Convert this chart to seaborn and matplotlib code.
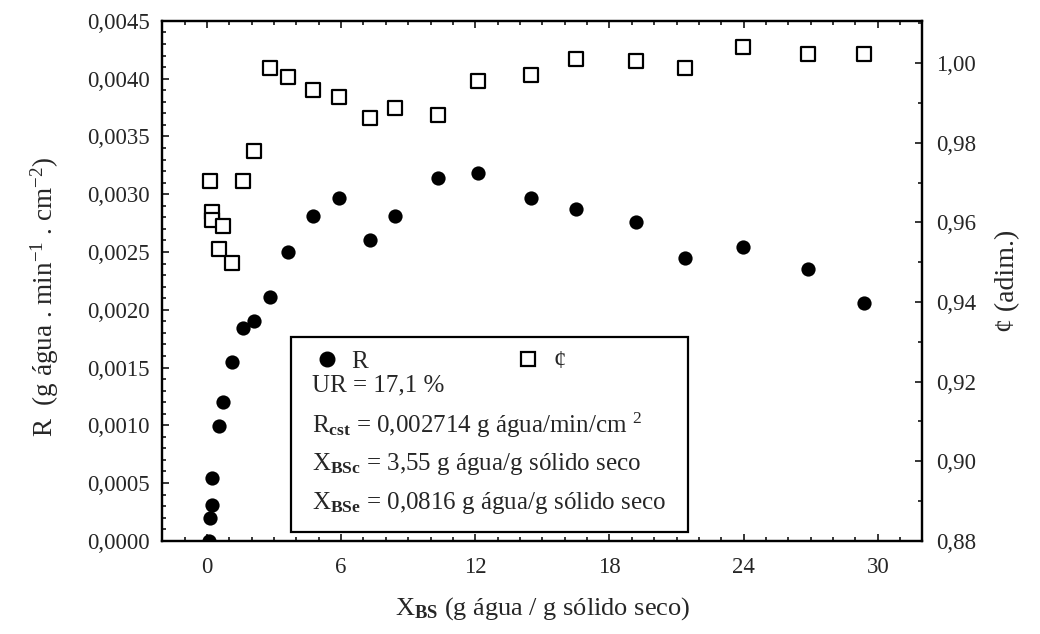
import numpy as np
import matplotlib
matplotlib.use("Agg")
import matplotlib.pyplot as plt
import seaborn as sns
from matplotlib.lines import Line2D
from matplotlib.patches import Rectangle
from matplotlib.ticker import MultipleLocator, FuncFormatter

# data
x_bs = [0.08, 0.15, 0.24, 0.24, 0.55, 0.73, 1.13, 1.62, 2.11, 2.81, 3.63, 4.75,
        5.90, 7.31, 8.42, 10.33, 12.11, 14.50, 16.50, 19.18, 21.40, 23.97, 26.90, 29.40]
r_rate = [0.0000, 0.00020, 0.00031, 0.00054, 0.00099, 0.00120, 0.00155, 0.00184,
          0.00190, 0.00211, 0.00250, 0.00281, 0.00297, 0.00260, 0.00281, 0.00314,
          0.00318, 0.00297, 0.00287, 0.00276, 0.00245, 0.00254, 0.00235, 0.00206]
# phi has no point at the first (R = 0) moisture value
x_phi = x_bs[1:]
phi = [0.9705, 0.9626, 0.9605, 0.9534, 0.9590, 0.9498, 0.9705, 0.9778, 0.9988,
       0.9965, 0.9932, 0.9915, 0.9863, 0.9887, 0.9870, 0.9954, 0.9971, 1.0011,
       1.0005, 0.9988, 1.0040, 1.0023, 1.0023]

legend_lines = [
    "UR = 17,1 %",
    r"R$_{\mathbf{cst}}$ = 0,002714 g água/min/cm $^{2}$",
    r"X$_{\mathbf{BSc}}$ = 3,55 g água/g sólido seco",
    r"X$_{\mathbf{BSe}}$ = 0,0816 g água/g sólido seco",
]

sns.set_style("ticks")
plt.rcParams["font.family"] = ["Liberation Serif", "DejaVu Serif"]
plt.rcParams["mathtext.fontset"] = "custom"
plt.rcParams["mathtext.rm"] = "Liberation Serif"
plt.rcParams["mathtext.it"] = "Liberation Serif:italic"
plt.rcParams["mathtext.bf"] = "Liberation Serif:bold"

fig = plt.figure(figsize=(10.4, 6.34), dpi=100)
ax = fig.add_axes([0.156, 0.147, 0.731, 0.820])
ax2 = ax.twinx()

sns.scatterplot(x=x_bs, y=r_rate, ax=ax, color="black", marker="o", s=105,
                linewidth=0, legend=False, zorder=3)
sns.scatterplot(x=x_phi, y=phi, ax=ax2, color="white", edgecolor="black",
                marker="s", s=100, linewidth=1.6, legend=False, zorder=3)

comma = lambda nd: FuncFormatter(lambda v, p: f"{v:.{nd}f}".replace(".", ","))

ax.set_xlim(-2, 32)
ax.xaxis.set_major_locator(MultipleLocator(6))
ax.xaxis.set_minor_locator(MultipleLocator(1))
ax.set_ylim(0, 0.0045)
ax.yaxis.set_major_locator(MultipleLocator(0.0005))
ax.yaxis.set_minor_locator(MultipleLocator(0.0001))
ax.yaxis.set_major_formatter(comma(4))

ax2.set_ylim(0.88, 1.0106)
ax2.yaxis.set_major_locator(MultipleLocator(0.02))
ax2.yaxis.set_minor_locator(MultipleLocator(0.01))
ax2.yaxis.set_major_formatter(comma(2))

ax.tick_params(axis="both", which="both", direction="in", top=True, right=False,
               labelsize=16.5, width=1.3)
ax.tick_params(axis="y", which="major", length=5, pad=9)
ax.tick_params(axis="x", which="major", length=5, pad=12)
ax.tick_params(axis="both", which="minor", length=3)
ax2.tick_params(axis="y", which="both", direction="in", left=False, right=True,
                labelsize=16.5, width=1.3)
ax2.tick_params(axis="y", which="major", length=5, pad=10)
ax2.tick_params(axis="y", which="minor", length=3)

for a in (ax, ax2):
    for s in a.spines.values():
        s.set_linewidth(1.6)
        s.set_color("black")

ax.set_xlabel(r"X$_{\mathbf{BS}}$ (g água / g sólido seco)", fontsize=19)
ax.xaxis.set_label_coords(0.5, -0.105)
ax.set_ylabel(r"R  (g água . min$^{-1}$ . cm$^{-2}$)", fontsize=19.5)
ax.yaxis.set_label_coords(-0.133, 0.47)
ax2.set_ylabel("¢ (adim.)", fontsize=20)
ax2.yaxis.set_label_coords(1.095, 0.5)

# legend box with text lines
box = Rectangle((0.1695, 0.0173), 0.5215, 0.375, transform=ax.transAxes,
                facecolor="white", edgecolor="black", linewidth=1.6, zorder=5)
ax2.add_patch(box)
handles = [
    Line2D([], [], marker="o", color="black", linestyle="none", markersize=10.5),
    Line2D([], [], marker="s", markerfacecolor="white", markeredgecolor="black",
           markeredgewidth=1.6, linestyle="none", markersize=10),
]
leg = ax2.legend(handles, ["R", "¢"], ncol=2, frameon=False, fontsize=18,
                 loc="upper left", bbox_to_anchor=(0.19, 0.380),
                 handlelength=1.0, handletextpad=0.5, columnspacing=5.9,
                 borderaxespad=0, borderpad=0.3)
leg.set_zorder(6)
for i, line in enumerate(legend_lines):
    ax2.text(0.197, 0.298 - i * 0.075, line, transform=ax.transAxes, fontsize=18,
             va="center", ha="left", zorder=6)

fig.savefig("out.png", dpi=100)
